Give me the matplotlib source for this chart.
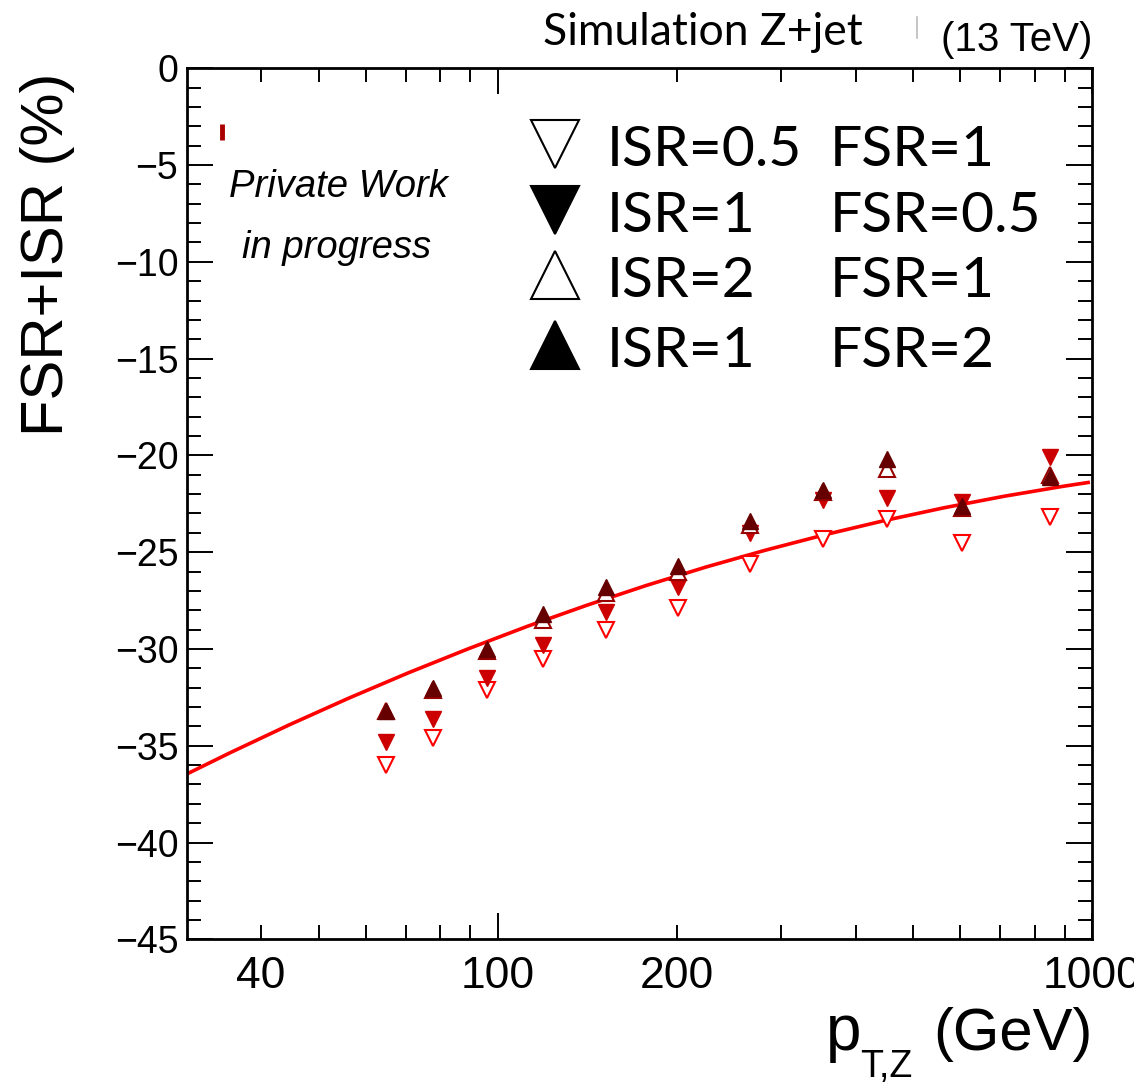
import matplotlib
matplotlib.use('Agg')
import matplotlib.pyplot as plt
from matplotlib.ticker import MultipleLocator, FuncFormatter, FixedLocator

plt.rcParams['font.family'] = ['Liberation Sans', 'DejaVu Sans']

# pt bin centres (GeV) and shifts (%) for each variation
pt = [65, 78, 96, 119, 152, 201, 266, 352, 451, 604, 850]
isr05_fsr1 = [-36.0, -34.6, -32.1, -30.5, -29.0, -27.9, -25.6, -24.3, -23.3, -24.5, -23.2]
isr1_fsr05 = [-34.8, -33.6, -31.5, -29.8, -28.1, -26.8, -24.0, -22.3, -22.2, -22.4, -20.1]
isr2_fsr1 = [-33.2, -32.1, -30.1, -28.5, -27.1, -26.0, -23.6, -21.9, -20.7, -22.7, -21.0]
isr1_fsr2 = [-33.2, -32.0, -30.0, -28.2, -26.8, -25.7, -23.4, -21.8, -20.2, -22.6, -21.1]

# fit curve
fit_pt = [30.2, 35.5, 44.7, 56.2, 70.8, 89.1, 112.2, 141.3, 177.8, 223.9, 281.8, 354.8, 446.7, 562.3, 707.9, 891.3, 984]
fit_val = [-36.42, -35.36, -33.91, -32.54, -31.23, -30.0, -28.83, -27.74, -26.72, -25.77, -24.9,
           -24.1, -23.37, -22.71, -22.12, -21.6, -21.4]

# stray point at top left
stray_pt = [34.4]
stray_val = [-3.3]

legend_labels = [('ISR=0.5', 'FSR=1'), ('ISR=1', 'FSR=0.5'), ('ISR=2', 'FSR=1'), ('ISR=1', 'FSR=2')]

W, H = 1134, 1082
L, R, T, B = 186.7, 1092.3, 68.3, 939.3

fig = plt.figure(figsize=(W / 100, H / 100), dpi=100)
ax = fig.add_axes([L / W, 1 - B / H, (R - L) / W, (B - T) / H])


def ax_xy(px, py):
    return (px - L) / (R - L), 1 - (py - T) / (B - T)


ax.plot(fit_pt, fit_val, color='#ff0000', lw=2.6, zorder=2)

ms = 11.5
ax.plot(pt, isr05_fsr1, 'v', ms=ms, mfc='white', mec='#ff0000', mew=1.5, ls='none', zorder=3)
ax.plot(pt, isr1_fsr05, 'v', ms=ms, color='#cc0000', ls='none', zorder=4)
ax.plot(pt, isr2_fsr1, '^', ms=ms, mfc='white', mec='#990000', mew=1.5, ls='none', zorder=5)
ax.plot(pt, isr1_fsr2, '^', ms=ms, color='#660000', ls='none', zorder=6)
ax.plot(stray_pt, stray_val, '|', ms=12, mew=3.5, color='#aa0000', ls='none', zorder=3)

ax.set_xscale('log')
ax.set_xlim(30, 1000)
ax.set_ylim(-45, 0)

ax.yaxis.set_major_locator(MultipleLocator(5))
ax.yaxis.set_minor_locator(MultipleLocator(1))
ax.xaxis.set_major_locator(FixedLocator([100, 1000]))
ax.xaxis.set_minor_locator(FixedLocator([40, 50, 60, 70, 80, 90, 200, 300, 400, 500, 600, 700, 800, 900]))
ax.xaxis.set_major_formatter(FuncFormatter(lambda v, p: '%d' % round(v)))
ax.xaxis.set_minor_formatter(FuncFormatter(lambda v, p: '%d' % round(v) if round(v) in (40, 200) else ''))

ax.tick_params(which='both', direction='in', top=True, right=True, width=1.4)
ax.tick_params(which='major', length=18.7)
ax.tick_params(which='minor', length=10)
ax.tick_params(axis='x', which='both', labelsize=32, pad=12)
ax.tick_params(axis='y', which='both', labelsize=27, pad=6)
for s in ax.spines.values():
    s.set_linewidth(2)

# axis titles
fig.text(48 / W, 1 - 73 / H, 'FSR+ISR (%)', rotation=90, ha='center', va='top', fontsize=43)
fig.text(R / W, 1 - 1050 / H, '(GeV)', ha='right', va='baseline', fontsize=43)
fig.text(826 / W, 1 - 1050 / H, 'p', ha='left', va='baseline', fontsize=46)
fig.text(860 / W, 1 - 1077 / H, 'T,Z', ha='left', va='baseline', fontsize=27)

# header
fig.text(543 / W, 1 - 45 / H, 'Simulation Z+jet', ha='left', va='baseline', fontsize=32, family=['Lato', 'DejaVu Sans'])
fig.text(R / W, 1 - 51 / H, '(13 TeV)', ha='right', va='baseline', fontsize=29)
fig.add_artist(plt.Line2D([917 / W, 917 / W], [1 - 17 / H, 1 - 38 / H], color='#bbbbbb', lw=1.2))

fig.text(229 / W, 1 - 197 / H, 'Private Work', ha='left', va='baseline', fontsize=27.5, style='italic')
fig.text(242 / W, 1 - 258 / H, 'in progress', ha='left', va='baseline', fontsize=27.5, style='italic')

# legend drawn by hand
rows_y = [144, 210, 275, 345]
markers = [('v', 'white', 'black'), ('v', 'black', 'black'), ('^', 'white', 'black'), ('^', 'black', 'black')]
for (isr, fsr), ry, (m, fc, ec) in zip(legend_labels, rows_y, markers):
    mx, my = ax_xy(555, ry)
    ax.plot([mx], [my], m, ms=34, mfc=fc, mec=ec, mew=1.5, transform=ax.transAxes, clip_on=False)
    tx, ty = ax_xy(607, ry + 22)
    ax.text(tx, ty, isr, transform=ax.transAxes, ha='left', va='baseline', fontsize=41, family=['Lato', 'DejaVu Sans'])
    tx, ty = ax_xy(830, ry + 22)
    ax.text(tx, ty, fsr, transform=ax.transAxes, ha='left', va='baseline', fontsize=41, family=['Lato', 'DejaVu Sans'])

fig.savefig('out.png', dpi=100)
